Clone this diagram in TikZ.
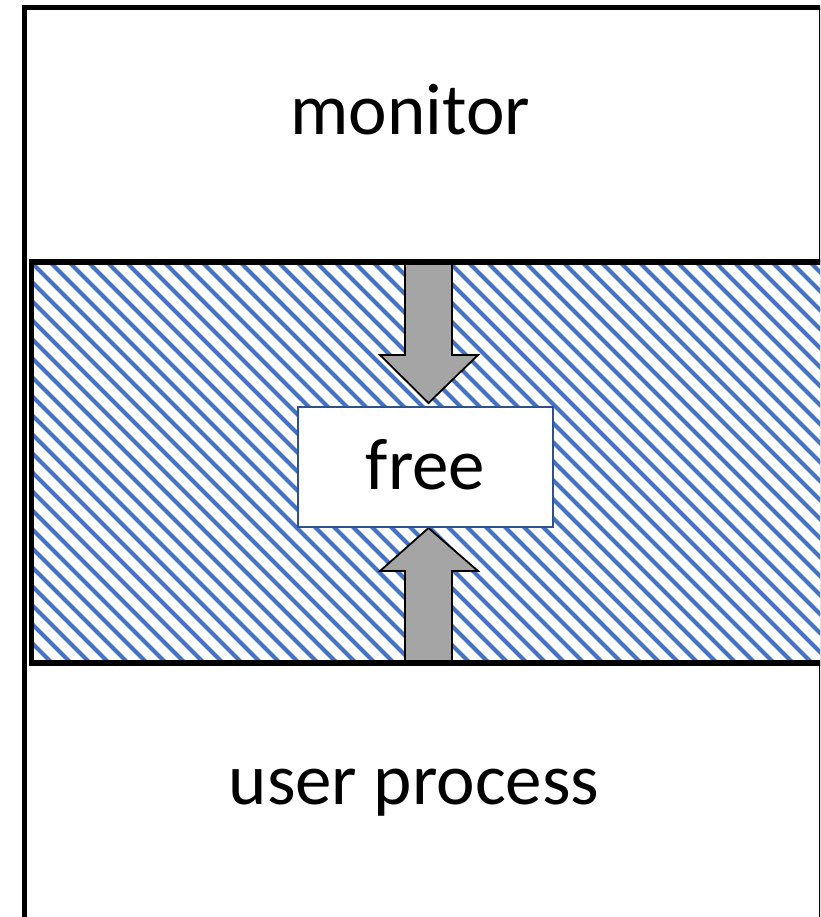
\documentclass[tikz,border=0pt]{standalone}
\usepackage{fontspec}
\setmainfont{Carlito}
\definecolor{hatchblue}{HTML}{4472C4}
\definecolor{boxblue}{HTML}{2F528F}
\definecolor{arrowgray}{HTML}{A5A5A5}
\tikzset{
  frameline/.style={line width=5pt},
  hatchline/.style={hatchblue, line width=4pt},
  blockarrow/.style={fill=arrowgray, draw=black, line width=1.8pt, line join=miter},
  freebox/.style={draw=boxblue, fill=white, line width=2pt, minimum width=254.4pt,
    minimum height=120pt, inner sep=0pt, text height=44pt, text depth=0pt},
  lbl/.style={inner sep=0pt, font=\fontsize{73}{88}\selectfont},
}
\begin{document}
\begin{tikzpicture}[x=1pt,y=-1pt]
  \useasboundingbox (0,0) rectangle (820,917);
  \clip (0,0) rectangle (820,917);

  % outer memory frame
  \draw[frameline] (24.2,930) -- (24.2,8) -- (822,8);
  \draw[line width=5pt] (821.5,8) -- (821.5,930);

  % region labels
  \node[lbl, anchor=base] (monitor) at (410.3,135) {monitor};
  \node[lbl, anchor=base] (user) at (414,804) {user process};

  % hatched free area
  \fill[white] (31.5,262) rectangle (830,663);
  \begin{scope}
    \clip (34,264.5) rectangle (830,660.5);
    \foreach \c in {-630,-611,...,600}
      \draw[hatchline] ({\c+250},250) -- ({\c+680},680);
  \end{scope}

  % growth arrows
  \coordinate (topedge) at (428.5,262);
  \coordinate (botedge) at (428.5,663);
  \draw[blockarrow] (405,262) -- (452,262) -- (452,355) -- (478,355) -- (428.5,403)
    -- (380,355) -- (405,355) -- cycle;
  \draw[blockarrow] (405,663) -- (452,663) -- (452,571) -- (478,571) -- (428.5,528)
    -- (380,571) -- (405,571) -- cycle;

  % border of the free area
  \draw[line width=5.5pt] (830,262) -- (31.5,262) -- (31.5,663) -- (830,663);

  % free block
  \node[freebox, lbl] (free) at (425.5,467.3) {free};
\end{tikzpicture}
\end{document}
